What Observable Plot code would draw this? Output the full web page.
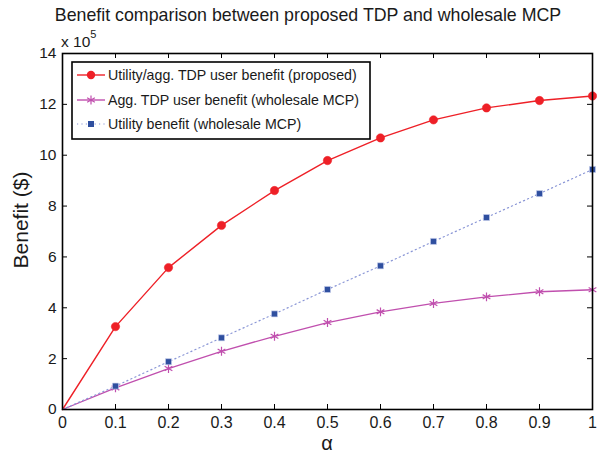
<!DOCTYPE html>
<html>
<head>
<meta charset="utf-8">
<script src="https://cdn.jsdelivr.net/npm/d3@7"></script>
<script src="https://cdn.jsdelivr.net/npm/@observablehq/plot@0.6"></script>
<style>
  body { margin: 0; background: #fff; }
  #chart svg { display: block; }
</style>
</head>
<body>
<div id="chart"></div>
<script>
// ---- data (benefit in units of 1e5 $) ----
const alpha = [0, 0.1, 0.2, 0.3, 0.4, 0.5, 0.6, 0.7, 0.8, 0.9, 1];
const proposed = [0, 3.26, 5.58, 7.24, 8.61, 9.79, 10.68, 11.39, 11.86, 12.15, 12.33];
const aggWholesale = [0, 0.85, 1.61, 2.29, 2.88, 3.42, 3.84, 4.17, 4.43, 4.63, 4.71];
const utilityWholesale = [0, 0.92, 1.88, 2.82, 3.76, 4.72, 5.65, 6.61, 7.55, 8.49, 9.44];
const seriesNames = [
  "Utility/agg. TDP user benefit (proposed)",
  "Agg. TDP user benefit (wholesale MCP)",
  "Utility benefit (wholesale MCP)"
];
const xTicks = [0, 0.1, 0.2, 0.3, 0.4, 0.5, 0.6, 0.7, 0.8, 0.9, 1];
const xTickLabels = ["0", "0.1", "0.2", "0.3", "0.4", "0.5", "0.6", "0.7", "0.8", "0.9", "1"];
const yTicks = [0, 2, 4, 6, 8, 10, 12, 14];
const yTickLabels = ["0", "2", "4", "6", "8", "10", "12", "14"];
const titleText = "Benefit comparison between proposed TDP and wholesale MCP";
const xLabel = "α";
const yLabel = "Benefit ($)";

// ---- styles ----
const colors = ["#ee2027", "#c04fae", "#2f4f9f"];
const lineColors = ["#ee2027", "#c04fae", "#8a96d6"];
const font = "'Liberation Sans', Arial, Helvetica, sans-serif";
const W = 597, H = 455;
const mL = 62, mR = 5, mT = 53, mB = 46;
const plotH = H - mT - mB, plotW = W - mL - mR;
const tick = 5;

const rows = [proposed, aggWholesale, utilityWholesale].flatMap((vals, s) =>
  alpha.map((a, i) => ({ a, v: vals[i], s }))
);
const markerRows = rows.filter(d => d.a > 0);
const xFmt = new Map(xTicks.map((t, i) => [t, xTickLabels[i]]));
const yFmt = new Map(yTicks.map((t, i) => [t, yTickLabels[i]]));

const chart = Plot.plot({
  width: W, height: H,
  marginLeft: mL, marginRight: mR, marginTop: mT, marginBottom: mB,
  style: { fontFamily: font, background: "#fff", color: "#1a1a1a", overflow: "visible" },
  x: { domain: [0, 1] },
  y: { domain: [0, 14] },
  marks: [
    Plot.axisX({ ticks: xTicks, tickFormat: d => xFmt.get(d), tickSize: 0, tickPadding: 7, fontSize: 16, label: null }),
    Plot.axisY({ ticks: yTicks, tickFormat: d => yFmt.get(d), tickSize: 0, tickPadding: 6, fontSize: 15.5, label: null }),
    // inward tick marks on all four sides
    Plot.ruleX(xTicks, { x: d => d, insetTop: plotH - tick, stroke: "#000", strokeWidth: 1 }),
    Plot.ruleX(xTicks, { x: d => d, insetBottom: plotH - tick, stroke: "#000", strokeWidth: 1 }),
    Plot.ruleY(yTicks, { y: d => d, insetRight: plotW - tick, stroke: "#000", strokeWidth: 1 }),
    Plot.ruleY(yTicks, { y: d => d, insetLeft: plotW - tick, stroke: "#000", strokeWidth: 1 }),
    // series
    Plot.line(rows.filter(d => d.s === 0), { x: "a", y: "v", stroke: lineColors[0], strokeWidth: 1.4 }),
    Plot.line(rows.filter(d => d.s === 1), { x: "a", y: "v", stroke: lineColors[1], strokeWidth: 1.3 }),
    Plot.line(rows.filter(d => d.s === 2), { x: "a", y: "v", stroke: lineColors[2], strokeWidth: 1.2, strokeDasharray: "1.2,3.2" }),
    Plot.dot(markerRows.filter(d => d.s === 0), { x: "a", y: "v", r: 4.2, fill: colors[0], stroke: colors[0], strokeWidth: 0.5 }),
    Plot.dot(markerRows.filter(d => d.s === 1), { x: "a", y: "v", r: 4.2, symbol: "asterisk", stroke: colors[1], strokeWidth: 1.2 }),
    Plot.dot(markerRows.filter(d => d.s === 2), { x: "a", y: "v", r: 3.4, symbol: "square", fill: colors[2], stroke: "#c8d0ee", strokeWidth: 0.6 }),
    Plot.frame({ stroke: "#000", strokeWidth: 1.6 })
  ]
});
document.getElementById("chart").appendChild(chart);

// ---- annotations: title, axis labels, exponent, legend ----
const svg = d3.select(chart);
const txt = "#1a1a1a";
svg.append("text").attr("x", 308).attr("y", 21).attr("text-anchor", "middle")
  .attr("font-size", 17.8).attr("fill", txt).text(titleText);
svg.append("text").attr("x", mL + plotW / 2).attr("y", 450).attr("text-anchor", "middle")
  .attr("font-size", 20).attr("fill", txt).text(xLabel);
svg.append("text").attr("transform", `translate(28,220) rotate(-90)`)
  .attr("text-anchor", "middle").attr("font-size", 21).attr("fill", txt).text(yLabel);
const ex = svg.append("text").attr("x", 61).attr("y", 47).attr("text-anchor", "start")
  .attr("font-size", 15.5).attr("fill", txt);
ex.append("tspan").text("x 10");
ex.append("tspan").attr("dy", -9).attr("font-size", 11).text("5");

const lg = svg.append("g");
const lx = 72, ly = 62, lw = 298, lh = 77;
lg.append("rect").attr("x", lx).attr("y", ly).attr("width", lw).attr("height", lh)
  .attr("fill", "#fff").attr("stroke", "#000").attr("stroke-width", 1.6);
const rowY = [75, 100, 124];
seriesNames.forEach((name, i) => {
  const y = rowY[i];
  const ln = lg.append("line").attr("x1", 77).attr("x2", 105).attr("y1", y).attr("y2", y)
    .attr("stroke", lineColors[i]).attr("stroke-width", i === 2 ? 1.2 : 1.4);
  if (i === 2) ln.attr("stroke-dasharray", "1.2,3.2");
  if (i === 0) lg.append("circle").attr("cx", 91).attr("cy", y).attr("r", 4.2).attr("fill", colors[0]);
  if (i === 1) lg.append("path").attr("transform", `translate(91,${y})`)
    .attr("d", d3.symbol(d3.symbolAsterisk, Math.PI * 17.6)()).attr("stroke", colors[1]).attr("stroke-width", 1.2).attr("fill", "none");
  if (i === 2) lg.append("rect").attr("x", 88).attr("y", y - 3).attr("width", 6).attr("height", 6).attr("fill", colors[2]);
  lg.append("text").attr("x", 108).attr("y", y).attr("dy", "0.35em").attr("text-anchor", "start")
    .attr("font-size", 14.2).attr("fill", txt).text(name);
});
</script>
</body>
</html>
